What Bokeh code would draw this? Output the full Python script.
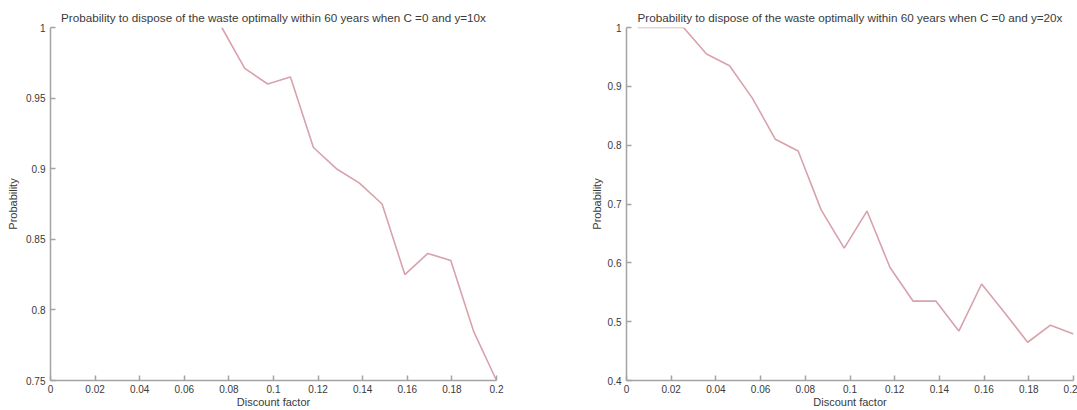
from bokeh.plotting import figure
from bokeh.layouts import row
from bokeh.models import FixedTicker, Range1d
from bokeh.embed import file_html
from bokeh.resources import INLINE

# ---- data ----
discount_all = [0.005, 0.0153, 0.0255, 0.0358, 0.0461, 0.0563, 0.0666, 0.0768, 0.0871, 0.0974,
                0.1076, 0.1179, 0.1282, 0.1384, 0.1487, 0.1589, 0.1692, 0.1795, 0.1897, 0.2]
discount_10x = [0.0768, 0.0871, 0.0974, 0.1076, 0.1179, 0.1282, 0.1384, 0.1487, 0.1589,
                0.1692, 0.1795, 0.1897, 0.2]
prob_10x = [1.0, 0.971, 0.960, 0.965, 0.915, 0.900, 0.890, 0.875, 0.825, 0.840, 0.835, 0.785, 0.75]
prob_20x = [1.0, 1.0, 1.0, 0.955, 0.935, 0.880, 0.810, 0.790, 0.690, 0.625,
            0.688, 0.592, 0.535, 0.535, 0.484, 0.564, 0.515, 0.465, 0.494, 0.479]

x_ticks = [0, 0.02, 0.04, 0.06, 0.08, 0.1, 0.12, 0.14, 0.16, 0.18, 0.2]
x_tick_labels = ["0", "0.02", "0.04", "0.06", "0.08", "0.1", "0.12", "0.14", "0.16", "0.18", "0.2"]
y_ticks_10x = [0.75, 0.8, 0.85, 0.9, 0.95, 1.0]
y_tick_labels_10x = ["0.75", "0.8", "0.85", "0.9", "0.95", "1"]
y_ticks_20x = [0.4, 0.5, 0.6, 0.7, 0.8, 0.9, 1.0]
y_tick_labels_20x = ["0.4", "0.5", "0.6", "0.7", "0.8", "0.9", "1"]

title_10x = "Probability to dispose of the waste optimally within 60 years when C =0 and y=10x"
title_20x = "Probability to dispose of the waste optimally within 60 years when C =0 and y=20x"
x_label = "Discount factor"
y_label = "Probability"

FONT = "Liberation Sans"
LINE_COLOR = "#d8a2ac"
AXIS_COLOR = "#a3a3a3"
TEXT_COLOR = "#3a3a3a"


def make(xs, ys, yr, yt, ytl, title, width, bl, br, y_label_standoff):
    p = figure(width=width, height=410, output_backend="svg", toolbar_location=None,
               x_range=Range1d(0, 0.2), y_range=Range1d(*yr),
               min_border_left=bl, min_border_right=br, min_border_top=27, min_border_bottom=28)
    p.line(xs, ys, line_color=LINE_COLOR, line_width=1.6)
    p.outline_line_color = None
    p.grid.visible = False
    p.background_fill_color = "white"
    p.border_fill_color = "white"
    p.title.text = title
    p.title.align = "center"
    p.title.text_font = FONT
    p.title.text_font_size = "11.7px"
    p.title.text_font_style = "normal"
    p.title.text_color = TEXT_COLOR
    p.title.standoff = 8

    xa = p.xaxis[0]
    xa.ticker = FixedTicker(ticks=x_ticks)
    xa.major_label_overrides = {t: l for t, l in zip(x_ticks, x_tick_labels)}
    xa.axis_label = x_label
    xa.axis_label_standoff = 0
    xa.major_label_standoff = 4
    ya = p.yaxis[0]
    ya.ticker = FixedTicker(ticks=yt)
    ya.major_label_overrides = {t: l for t, l in zip(yt, ytl)}
    ya.axis_label = y_label
    ya.axis_label_standoff = y_label_standoff
    ya.major_label_standoff = 5
    for ax in (xa, ya):
        ax.axis_line_color = AXIS_COLOR
        ax.axis_line_width = 1.5
        ax.major_tick_line_color = AXIS_COLOR
        ax.major_tick_line_width = 1.5
        ax.major_tick_in = 5
        ax.major_tick_out = 0
        ax.minor_tick_line_color = None
        ax.major_label_text_font = FONT
        ax.major_label_text_font_size = "10px"
        ax.major_label_text_color = TEXT_COLOR
        ax.axis_label_text_font = FONT
        ax.axis_label_text_font_size = "11px"
        ax.axis_label_text_font_style = "normal"
        ax.axis_label_text_color = TEXT_COLOR
    return p


p1 = make(discount_10x, prob_10x, (0.75, 1.0), y_ticks_10x, y_tick_labels_10x, title_10x,
          540, 50, 44, 4)
p2 = make(discount_all, prob_20x, (0.4, 1.0), y_ticks_20x, y_tick_labels_20x, title_20x,
          537, 86, 4, 2)

layout = row(p1, p2)
open("out.html", "w").write(file_html(layout, INLINE))
